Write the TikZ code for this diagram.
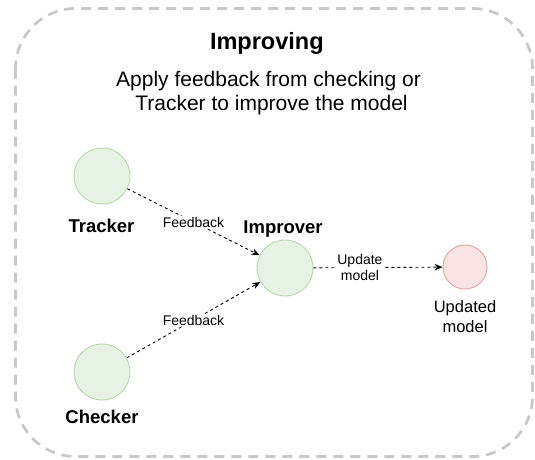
\documentclass[tikz,border=0pt]{standalone}
\usepackage{fontspec}
\setmainfont{Liberation Sans}
\usetikzlibrary{arrows.meta}
\definecolor{gfill}{HTML}{E6F2E3}
\definecolor{gdraw}{HTML}{B7D7AA}
\definecolor{rfill}{HTML}{FAE3E3}
\definecolor{rdraw}{HTML}{E2A5A5}
\definecolor{framegray}{HTML}{C8C8C8}
\begin{document}
\begin{tikzpicture}[x=1pt,y=-1pt,
  gnode/.style={circle,draw=gdraw,fill=gfill,line width=0.9pt,minimum size=56pt,inner sep=0pt},
  rnode/.style={circle,draw=rdraw,fill=rfill,line width=0.9pt,minimum size=44pt,inner sep=0pt},
  boldlabel/.style={font=\fontsize{18.5}{22}\selectfont\bfseries,anchor=base,inner sep=0pt},
  sublabel/.style={font=\fontsize{21}{24}\selectfont,anchor=base,inner sep=0pt},
  elabel/.style={font=\fontsize{14}{16}\selectfont,fill=white,inner sep=1pt,align=center},
  flow/.style={draw=black,line width=0.9pt,dash pattern=on 3pt off 3pt,-{Stealth[length=8pt,width=6.5pt]}}
]
\useasboundingbox (0,0) rectangle (535,460);
\draw[framegray,line width=2.7pt,dash pattern=on 10pt off 7pt,rounded corners=60pt] (15.5,8.5) rectangle (532.5,456.5);

\node[font=\fontsize{23.5}{28}\selectfont\bfseries,anchor=base,inner sep=0pt] (title) at (266.8,50) {Improving};
\node[sublabel] (sub1) at (268.5,86) {Apply feedback from checking or};
\node[sublabel] (sub2) at (271.5,110) {Tracker to improve the model};

\node[gnode] (tracker) at (102,176) {};
\node[gnode] (improver) at (285,268) {};
\node[gnode] (checker) at (102,372) {};
\node[rnode] (updated) at (465,267) {};

\node[boldlabel] (trackerlbl) at (101.5,232) {Tracker};
\node[boldlabel] (improverlbl) at (283,233) {Improver};
\node[boldlabel] (checkerlbl) at (102,423) {Checker};
\node[font=\fontsize{16.5}{20}\selectfont,align=center,inner sep=0pt] (updatedlbl) at (465,317) {Updated\\model};

\draw[flow] (tracker) -- node[elabel] {Feedback} (improver);
\draw[flow] (checker) -- node[elabel] {Feedback} (improver);
\draw[flow] (improver) -- node[elabel,pos=0.36] {Update\\model} (updated);
\end{tikzpicture}
\end{document}
